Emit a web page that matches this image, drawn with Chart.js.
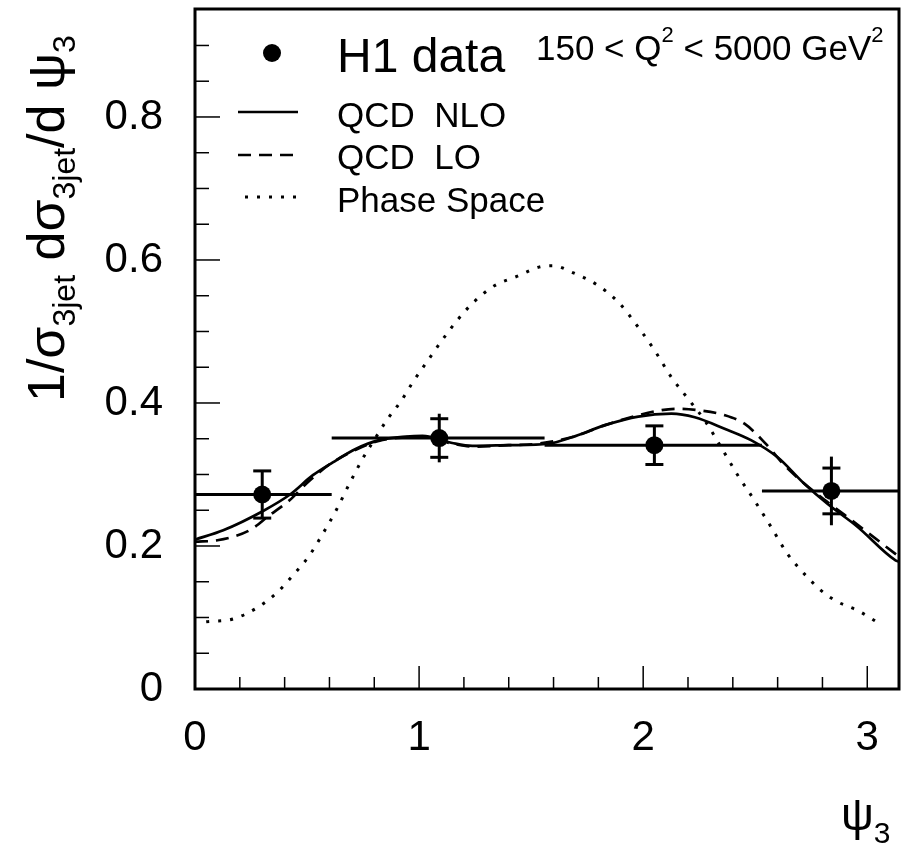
<!DOCTYPE html>
<html>
<head>
<meta charset="utf-8">
<script src="https://cdn.jsdelivr.net/npm/chart.js@4.4.1/dist/chart.umd.min.js"></script>
<style>
  html, body { margin: 0; padding: 0; background: #fff; }
  #wrap { width: 912px; height: 845px; }
</style>
</head>
<body>
<div id="wrap"><canvas id="chart" width="912" height="845"></canvas></div>
<script>
// QCD NLO (solid)
const nloX = [0.0, 0.126, 0.304, 0.424, 0.526, 0.615, 0.719, 0.822, 0.941, 1.015, 1.148, 1.237, 1.40, 1.578,
  1.681, 1.830, 1.978, 2.126, 2.230, 2.363, 2.481, 2.600, 2.719, 2.822, 2.956, 3.126, 3.1416];
const nloY = [0.209, 0.222, 0.249, 0.272, 0.299, 0.317, 0.336, 0.348, 0.353, 0.354, 0.344, 0.340, 0.341, 0.343,
  0.352, 0.369, 0.381, 0.385, 0.380, 0.364, 0.348, 0.324, 0.287, 0.259, 0.227, 0.180, 0.178];

// QCD LO (dashed)
const loX = [0.0, 0.10, 0.244, 0.333, 0.422, 0.496, 0.60, 0.72, 0.82, 0.94, 1.02, 1.15, 1.24, 1.40, 1.53,
  1.68, 1.83, 1.98, 2.08, 2.156, 2.244, 2.363, 2.452, 2.541, 2.63, 2.72, 2.82, 2.96, 3.1416];
const loY = [0.206, 0.208, 0.222, 0.243, 0.264, 0.287, 0.314, 0.335, 0.347, 0.352, 0.353, 0.343, 0.339, 0.341, 0.343,
  0.352, 0.369, 0.383, 0.390, 0.392, 0.390, 0.383, 0.371, 0.345, 0.313, 0.287, 0.262, 0.229, 0.185];

// Phase Space (dotted)
const psX = [0.05, 0.17, 0.274, 0.363, 0.437, 0.511, 0.570, 0.630, 0.689, 0.748, 0.807, 0.860, 0.918, 0.974,
  1.038, 1.101, 1.171, 1.247, 1.336, 1.436, 1.548, 1.60, 1.681, 1.80, 1.889, 1.978, 2.052, 2.126, 2.20,
  2.274, 2.348, 2.422, 2.496, 2.57, 2.644, 2.719, 2.793, 2.867, 2.956, 3.067];
const psY = [0.094, 0.098, 0.113, 0.134, 0.159, 0.187, 0.217, 0.250, 0.287, 0.322, 0.352, 0.378, 0.402, 0.430,
  0.459, 0.487, 0.516, 0.542, 0.564, 0.577, 0.591, 0.592, 0.583, 0.564, 0.541, 0.506, 0.473, 0.436, 0.406,
  0.376, 0.338, 0.299, 0.264, 0.227, 0.189, 0.161, 0.138, 0.122, 0.110, 0.089];

// H1 data
const h1X = [0.30, 1.09, 2.05, 2.84];
const h1Y = [0.272, 0.351, 0.341, 0.277];
const binLo = [0.0, 0.61, 1.56, 2.53];
const binHi = [0.61, 1.56, 2.53, 3.1416];
const errStat = [0.033, 0.027, 0.027, 0.032];
const errTot = [0.033, 0.034, 0.028, 0.048];

// axes
const xTicks = [0, 1, 2, 3];
const yTicks = [0, 0.2, 0.4, 0.6, 0.8];
const xMinor = [0.2, 0.4, 0.6, 0.8, 1.2, 1.4, 1.6, 1.8, 2.2, 2.4, 2.6, 2.8];
const yMinor = [0.05, 0.1, 0.15, 0.25, 0.3, 0.35, 0.45, 0.5, 0.55, 0.65, 0.7, 0.75, 0.85, 0.9];

const FONT = '"Liberation Sans", Arial, Helvetica, sans-serif';

function pts(xs, ys) {
  return xs.map((x, i) => ({ x: x, y: ys[i] }));
}

function seg(ctx, x1, y1, x2, y2) {
  ctx.beginPath();
  ctx.moveTo(x1, y1);
  ctx.lineTo(x2, y2);
  ctx.stroke();
}

// draws pieces of text, some lowered (sub) or raised (sup)
function richText(ctx, x, y, parts) {
  parts.forEach(p => {
    ctx.font = p.size + 'px ' + FONT;
    ctx.fillText(p.t, x, y + (p.dy || 0));
    x += ctx.measureText(p.t).width;
  });
}

const decor = {
  id: 'decor',
  afterDatasetsDraw(chart) {
    const ctx = chart.ctx;
    const xs = chart.scales.x, ys = chart.scales.y;
    ctx.save();
    ctx.strokeStyle = '#000';
    ctx.lineWidth = 3;
    h1X.forEach((x, i) => {
      const px = xs.getPixelForValue(x);
      const py = ys.getPixelForValue(h1Y[i]);
      seg(ctx, xs.getPixelForValue(binLo[i]), py, xs.getPixelForValue(binHi[i]), py);
      seg(ctx, px, ys.getPixelForValue(h1Y[i] + errTot[i]), px, ys.getPixelForValue(h1Y[i] - errTot[i]));
      [h1Y[i] + errStat[i], h1Y[i] - errStat[i]].forEach(v => {
        const cy = ys.getPixelForValue(v);
        seg(ctx, px - 9, cy, px + 9, cy);
      });
    });
    ctx.restore();
  },
  afterDraw(chart) {
    const ctx = chart.ctx;
    const a = chart.chartArea;
    const xs = chart.scales.x, ys = chart.scales.y;
    ctx.save();
    ctx.strokeStyle = '#000';
    ctx.fillStyle = '#000';

    // ticks pointing inward
    ctx.lineWidth = 1.5;
    xTicks.forEach(v => { const p = xs.getPixelForValue(v); seg(ctx, p, a.bottom, p, a.bottom - 23); });
    xMinor.forEach(v => { const p = xs.getPixelForValue(v); seg(ctx, p, a.bottom, p, a.bottom - 12); });
    yTicks.forEach(v => { const p = ys.getPixelForValue(v); seg(ctx, a.left, p, a.left + 25, p); });
    yMinor.forEach(v => { const p = ys.getPixelForValue(v); seg(ctx, a.left, p, a.left + 14, p); });

    // frame
    ctx.lineWidth = 3;
    ctx.strokeRect(a.left, a.top, a.right - a.left, a.bottom - a.top);

    // legend
    ctx.beginPath();
    ctx.arc(272, 53, 9, 0, Math.PI * 2);
    ctx.fill();
    ctx.textBaseline = 'alphabetic';
    ctx.textAlign = 'left';
    ctx.font = '48px ' + FONT;
    ctx.fillText('H1 data', 337, 72);
    richText(ctx, 536, 60, [
      { t: '150 < Q', size: 35 },
      { t: '2', size: 22, dy: -18 },
      { t: ' < 5000 GeV', size: 35 },
      { t: '2', size: 22, dy: -18 }
    ]);

    ctx.lineWidth = 2.7;
    seg(ctx, 238, 112, 298, 112);
    ctx.setLineDash([13, 8]);
    seg(ctx, 238, 155, 298, 155);
    ctx.lineWidth = 3;
    ctx.setLineDash([3, 9]);
    seg(ctx, 245, 197, 300, 197);
    ctx.setLineDash([]);

    ctx.font = '35px ' + FONT;
    ctx.fillText('QCD  NLO', 337, 127);
    ctx.fillText('QCD  LO', 337, 169);
    ctx.fillText('Phase Space', 337, 212);

    // x title
    richText(ctx, 841, 830, [
      { t: '\u03c8', size: 46 },
      { t: '3', size: 30, dy: 13 }
    ]);

    // y title
    ctx.translate(64, 402);
    ctx.rotate(-Math.PI / 2);
    richText(ctx, 0, 0, [
      { t: '1/\u03c3', size: 52 },
      { t: '3jet', size: 32, dy: 11 },
      { t: ' d\u03c3', size: 52 },
      { t: '3jet', size: 32, dy: 11 },
      { t: '/d \u03c8', size: 52 },
      { t: '3', size: 32, dy: 11 }
    ]);
    ctx.restore();
  }
};

const lineBase = {
  showLine: true,
  pointRadius: 0,
  pointHoverRadius: 0,
  borderColor: '#000',
  backgroundColor: '#000',
  fill: false,
  tension: 0.4,
  cubicInterpolationMode: 'monotone'
};

new Chart(document.getElementById('chart'), {
  type: 'scatter',
  data: {
    datasets: [
      Object.assign({}, lineBase, { label: 'QCD  NLO', data: pts(nloX, nloY), borderWidth: 2.7 }),
      Object.assign({}, lineBase, { label: 'QCD  LO', data: pts(loX, loY), borderWidth: 2.7, borderDash: [13, 8] }),
      Object.assign({}, lineBase, { label: 'Phase Space', data: pts(psX, psY), borderWidth: 3, borderDash: [3, 9] }),
      {
        label: 'H1 data',
        data: pts(h1X, h1Y),
        showLine: false,
        pointRadius: 9,
        pointHoverRadius: 9,
        pointBackgroundColor: '#000',
        pointBorderWidth: 0
      }
    ]
  },
  options: {
    responsive: false,
    animation: false,
    devicePixelRatio: 1,
    events: [],
    layout: { padding: { top: 8, right: 13, bottom: 0, left: 0 } },
    plugins: {
      legend: { display: false },
      tooltip: { enabled: false }
    },
    scales: {
      x: {
        type: 'linear',
        min: 0,
        max: Math.PI,
        grid: { display: false, drawTicks: false },
        border: { display: false },
        afterBuildTicks: s => { s.ticks = xTicks.map(v => ({ value: v })); },
        afterFit: s => { s.height = 156; s.paddingLeft = 0; s.paddingRight = 0; },
        ticks: {
          color: '#000',
          font: { family: FONT, size: 42 },
          padding: 24,
          maxRotation: 0,
          autoSkip: false,
          callback: v => String(v)
        }
      },
      y: {
        type: 'linear',
        min: 0,
        max: 0.951,
        grid: { display: false, drawTicks: false },
        border: { display: false },
        afterBuildTicks: s => { s.ticks = yTicks.map(v => ({ value: v })); },
        afterFit: s => { s.width = 195; s.paddingTop = 0; s.paddingBottom = 0; },
        ticks: {
          color: '#000',
          font: { family: FONT, size: 42 },
          padding: 32,
          autoSkip: false,
          callback: v => (v === 0 ? '0' : v.toFixed(1))
        }
      }
    }
  },
  plugins: [decor]
});
</script>
</body>
</html>
